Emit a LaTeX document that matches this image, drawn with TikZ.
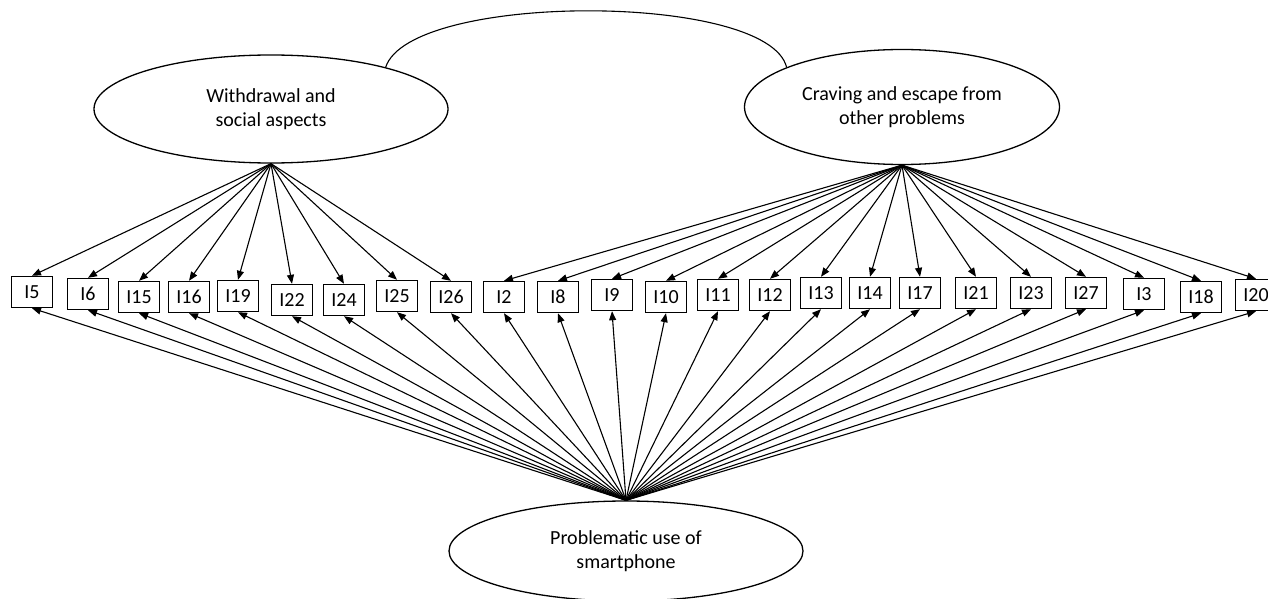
\documentclass[tikz,border=0pt]{standalone}
\usepackage{fontspec}
\setmainfont{Carlito}
\usetikzlibrary{arrows.meta,shapes.geometric}

\begin{document}
\begin{tikzpicture}[x=0.5pt,y=-0.5pt,>={Triangle[length=4.5pt,width=3.5pt]},
  line width=0.55pt,
  every node/.style={font=\fontsize{10}{12}\selectfont},
  factor/.style={draw,ellipse,line width=0.65pt,align=center,inner sep=0pt},
  item/.style={draw,line width=0.7pt,minimum width=20.5pt,minimum height=15.5pt,inner sep=0pt}]
  \useasboundingbox (0,0) rectangle (1268,599);

  % factors
  \node[factor, minimum width=177pt, minimum height=54pt] (wsa) at (271,109) {Withdrawal and\\social aspects};
  \node[factor, minimum width=157.5pt, minimum height=57.5pt] (cep) at (902,107) {Craving and escape from\\other problems};
  \node[factor, minimum width=177pt, minimum height=50pt] (pus) at (626,551) {Problematic use of\\smartphone};

  % items
  \node[item] (i5) at (32,292) {I5};
  \node[item] (i6) at (88,294) {I6};
  \node[item] (i15) at (139,297) {I15};
  \node[item] (i16) at (189,297) {I16};
  \node[item] (i19) at (238,296) {I19};
  \node[item] (i22) at (292,300) {I22};
  \node[item] (i24) at (344,300) {I24};
  \node[item] (i25) at (397,296) {I25};
  \node[item] (i26) at (451,297) {I26};
  \node[item] (i2) at (504,297) {I2};
  \node[item] (i8) at (558,297) {I8};
  \node[item] (i9) at (612,295) {I9};
  \node[item] (i10) at (666,297) {I10};
  \node[item] (i11) at (718,295) {I11};
  \node[item] (i12) at (770,295) {I12};
  \node[item] (i13) at (821,293) {I13};
  \node[item] (i14) at (870,293) {I14};
  \node[item] (i17) at (920,293) {I17};
  \node[item] (i21) at (976,293) {I21};
  \node[item] (i23) at (1031,293) {I23};
  \node[item] (i27) at (1086,293) {I27};
  \node[item] (i3) at (1144,294) {I3};
  \node[item] (i18) at (1201,297) {I18};
  \node[item] (i20) at (1256,295) {I20};

  % covariance
  \draw (wsa.20) .. controls (410,-8) and (768,-8) .. (cep.161);

  % withdrawal and social aspects
  \path[->] (wsa.south) edge (i5.north);
  \path[->] (wsa.south) edge (i6.north);
  \path[->] (wsa.south) edge (i15.north);
  \path[->] (wsa.south) edge (i16.north);
  \path[->] (wsa.south) edge (i19.north);
  \path[->] (wsa.south) edge (i22.north);
  \path[->] (wsa.south) edge (i24.north);
  \path[->] (wsa.south) edge (i25.north);
  \path[->] (wsa.south) edge (i26.north);

  % craving and escape
  \path[->] (cep.south) edge (i2.north);
  \path[->] (cep.south) edge (i8.north);
  \path[->] (cep.south) edge (i9.north);
  \path[->] (cep.south) edge (i10.north);
  \path[->] (cep.south) edge (i11.north);
  \path[->] (cep.south) edge (i12.north);
  \path[->] (cep.south) edge (i13.north);
  \path[->] (cep.south) edge (i14.north);
  \path[->] (cep.south) edge (i17.north);
  \path[->] (cep.south) edge (i21.north);
  \path[->] (cep.south) edge (i23.north);
  \path[->] (cep.south) edge (i27.north);
  \path[->] (cep.south) edge (i3.north);
  \path[->] (cep.south) edge (i18.north);
  \path[->] (cep.south) edge (i20.north);

  % problematic use
  \path[->] (pus.north) edge (i5.south);
  \path[->] (pus.north) edge (i6.south);
  \path[->] (pus.north) edge (i15.south);
  \path[->] (pus.north) edge (i16.south);
  \path[->] (pus.north) edge (i19.south);
  \path[->] (pus.north) edge (i22.south);
  \path[->] (pus.north) edge (i24.south);
  \path[->] (pus.north) edge (i25.south);
  \path[->] (pus.north) edge (i26.south);
  \path[->] (pus.north) edge (i2.south);
  \path[->] (pus.north) edge (i8.south);
  \path[->] (pus.north) edge (i9.south);
  \path[->] (pus.north) edge (i10.south);
  \path[->] (pus.north) edge (i11.south);
  \path[->] (pus.north) edge (i12.south);
  \path[->] (pus.north) edge (i13.south);
  \path[->] (pus.north) edge (i14.south);
  \path[->] (pus.north) edge (i17.south);
  \path[->] (pus.north) edge (i21.south);
  \path[->] (pus.north) edge (i23.south);
  \path[->] (pus.north) edge (i27.south);
  \path[->] (pus.north) edge (i3.south);
  \path[->] (pus.north) edge (i18.south);
  \path[->] (pus.north) edge (i20.south);
\end{tikzpicture}
\end{document}
